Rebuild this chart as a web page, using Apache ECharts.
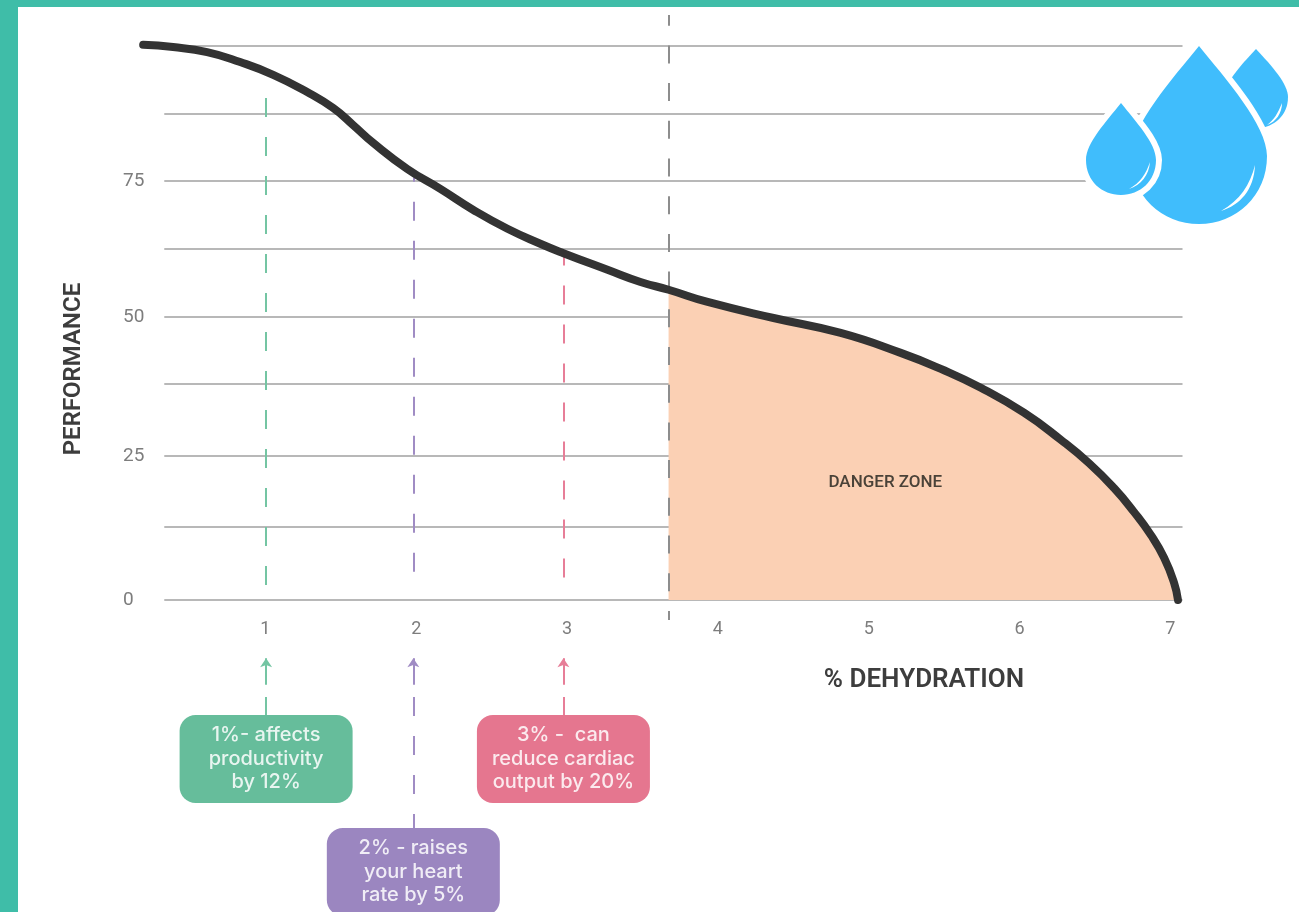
<!DOCTYPE html>
<html><head><meta charset="utf-8">
<style>html,body{margin:0;padding:0;background:#fff}#c{width:1299px;height:912px}</style>
<script src="https://cdn.jsdelivr.net/npm/echarts@6/dist/echarts.min.js"></script>
</head><body><div id="c"></div>
<script>
// % dehydration, performance
const curveX=[0.19,0.388,0.614,0.833,1.052,1.277,1.45,1.583,1.715,1.941,2.16,2.379,2.605,2.823,2.976,3.268,3.487,3.673,3.932,4.369,4.814,5.212,5.478,5.743,6.029,6.274,6.46,6.626,6.758,6.871,6.958,7.024,7.05];
const curveY=[100.2,99.8,98.9,97.1,94.8,91.7,88.8,85.7,82.5,77.8,74.2,70.4,67,64.3,62.6,59.6,57.4,56,53.8,50.9,48.2,44.6,41.7,38.3,33.8,28.9,24.7,20.2,15.9,11.7,7.6,3.1,0];
const dangerStart=17;
const gridValues=[0,13.2,26,39,51.1,63.4,75.6,87.7,100];
const yTickValues=[0,26,51.1,75.6];
const yTickLabels=['0','25','50','75'];
const xTicks=[1,2,3,4,5,6,7];
const gridFrom=0.33, gridTo=7.08;
const dangerX=3.673;
const markerX=[1.005,1.981,2.976];
const markerTop=[90.6,76.2,62.2];
const stubBottom=[-20.8,-41.2,-20.8];
const markerColors=['#74C5A3','#A08CC4','#E77E98'];
const boxColors=['#66BD9B','#9B86C0','#E5768F'];
const boxCenterY=[-28.7,-49.1,-28.7];
const boxText=['1%- affects\nproductivity\nby 12%','2% - raises\nyour heart\nrate by 5%','3% -  can\nreduce cardiac\noutput by 20%'];

const pair=(x1,y1,x2,y2)=>[{coord:[x1,y1]},{coord:[x2,y2]}];
const uiFont='Inter, Lato, sans-serif';
const titleFont='Roboto, "Noto Sans", sans-serif';
const curve=curveX.map((x,i)=>[x,curveY[i]]);
const dashPhase=[0,15,9];

const markerSeries=markerX.map((x,i)=>({
  type:'line',data:[],silent:true,z:3,
  markLine:{silent:true,z:3,symbol:'none',animation:false,label:{show:false},
    lineStyle:{color:markerColors[i],width:2,type:[19,20],dashOffset:dashPhase[i]},
    data:[pair(x,markerTop[i],x,1.8)]}
}));
const stubSeries=markerX.map((x,i)=>({
  type:'line',data:[],silent:true,z:3,
  markLine:{silent:true,z:3,symbol:'none',animation:false,label:{show:false},
    lineStyle:{color:markerColors[i],width:2,type:[19,20]},
    data:[pair(x,-17.5,x,stubBottom[i])]}
}));
const arrowSeries=markerX.map((x,i)=>({
  type:'line',data:[],silent:true,z:3,
  markLine:{silent:true,z:3,symbol:['none','arrow'],symbolSize:9,animation:false,label:{show:false},
    lineStyle:{color:markerColors[i],width:2,type:'solid'},
    data:[pair(x,-15.3,x,-10.5)]}
}));

const dropFill='#40BDFC';
const rightDrop='M1256,49 C1272,66 1288,84 1288,97 C1288,115 1275,127 1256,129 C1238,127 1224,115 1224,97 C1224,84 1240,66 1256,49Z';
const bigDrop='M1199,46 C1225,78 1267,125 1267,156 C1267,196 1236,224 1199,224 C1162,224 1131,196 1131,156 C1131,125 1173,78 1199,46Z';
const smallDrop='M1121,103 C1136,122 1156,143 1156,160 C1156,181 1140,195 1121,195 C1102,195 1086,181 1086,160 C1086,143 1106,122 1121,103Z';
const dropShapes=[
  {d:rightDrop,fill:dropFill},
  {d:'M1282,103 C1278,113 1274,120 1267,125 C1276,122 1282,113 1282,103Z',fill:'#fff'},
  {d:bigDrop,fill:'#fff',halo:12},
  {d:bigDrop,fill:dropFill},
  {d:'M1255,165 C1250,185 1240,200 1221,211 C1240,205 1254,190 1255,165Z',fill:'#fff'},
  {d:smallDrop,fill:'#fff',halo:12},
  {d:smallDrop,fill:dropFill},
  {d:'M1150,162 C1146,174 1140,183 1129,189 C1141,185 1149,175 1150,162Z',fill:'#fff'}
];

const chart=echarts.init(document.getElementById('c'),null,{renderer:'canvas'});
chart.setOption({
  animation:false,backgroundColor:'#fff',
  grid:{left:114.5,right:116.5,top:7.2,bottom:1.8,containLabel:false,outerBoundsMode:'none'},
  xAxis:{type:'value',min:0,max:7.08,interval:1,offset:-310.2,
    axisLine:{show:false,onZero:false},axisTick:{show:false},splitLine:{show:false},
    axisLabel:{customValues:xTicks,color:'#7d7d7d',fontSize:18,margin:20,fontFamily:titleFont}},
  yAxis:{type:'value',min:-56,max:107,
    axisLine:{show:false},axisTick:{show:false},splitLine:{show:false},
    axisLabel:{customValues:yTickValues,color:'#7d7d7d',fontSize:19,margin:-8.5,align:'left',
      formatter:v=>yTickLabels[yTickValues.indexOf(v)],fontFamily:titleFont}},
  series:[
    {type:'line',data:[],silent:true,z:1,
      markLine:{silent:true,z:1,symbol:'none',animation:false,label:{show:false},
        lineStyle:{color:'#a0a0a0',width:1.6,type:'solid'},
        data:gridValues.map(v=>pair(gridFrom,v,gridTo,v))}},
    {type:'line',data:curve.slice(dangerStart),smooth:0.5,symbol:'none',silent:true,z:2,
      lineStyle:{width:0,color:'#FBD0B4'},areaStyle:{color:'#FBD0B4',opacity:1}},
    {type:'line',data:[],silent:true,z:3,
      markLine:{silent:true,z:3,symbol:'none',animation:false,label:{show:false},
        lineStyle:{color:'#8d8d8d',width:2,type:[18,19.7],dashOffset:9},
        data:[pair(dangerX,-3.6,dangerX,105.6)]}},
    ...markerSeries,...stubSeries,...arrowSeries,
    {type:'line',data:curve,smooth:0.5,symbol:'none',silent:true,z:5,
      lineStyle:{width:8,color:'#333333',cap:'round',join:'round'}},
    {type:'scatter',silent:true,z:6,symbolSize:1,itemStyle:{color:'transparent',opacity:1},
      data:markerX.map((x,i)=>({value:[x,boxCenterY[i]],
        label:{backgroundColor:boxColors[i]}})),
      label:{show:true,position:'inside',formatter:p=>boxText[p.dataIndex],
        color:'rgba(255,255,255,0.85)',fontSize:20,fontWeight:500,lineHeight:23.5,align:'center',verticalAlign:'middle',
        fontFamily:uiFont,width:173,height:88,borderRadius:16}},
    {type:'scatter',silent:true,z:6,symbolSize:1,itemStyle:{color:'transparent',opacity:1},
      data:[[5.11,21.2]],
      label:{show:true,position:'inside',formatter:'DANGER ZONE',color:'#4a4238',fontSize:17,fontWeight:500,fontFamily:titleFont}},
    {type:'custom',silent:true,z:20,coordinateSystem:'none',data:[0],clip:false,
      renderItem:()=>({type:'group',children:dropShapes.map(s=>({type:'path',
        shape:{pathData:s.d},
        style:{fill:s.fill,stroke:s.halo?'#fff':null,lineWidth:s.halo||0}}))})}
  ],
  graphic:[
    {type:'rect',shape:{x:0,y:0,width:1299,height:7},style:{fill:'#3FBDA8'},z:50},
    {type:'rect',shape:{x:0,y:0,width:18,height:912},style:{fill:'#3FBDA8'},z:50},
    {type:'text',x:924,y:680,z:50,style:{text:'% DEHYDRATION',fill:'#3d3d3d',font:'600 26px '+titleFont,align:'center',verticalAlign:'middle'}},
    {type:'text',x:74,y:369,rotation:Math.PI/2,z:50,style:{text:'PERFORMANCE',fill:'#3d3d3d',font:'600 24px '+titleFont,align:'center',verticalAlign:'middle'}}
  ]
});
</script></body></html>
